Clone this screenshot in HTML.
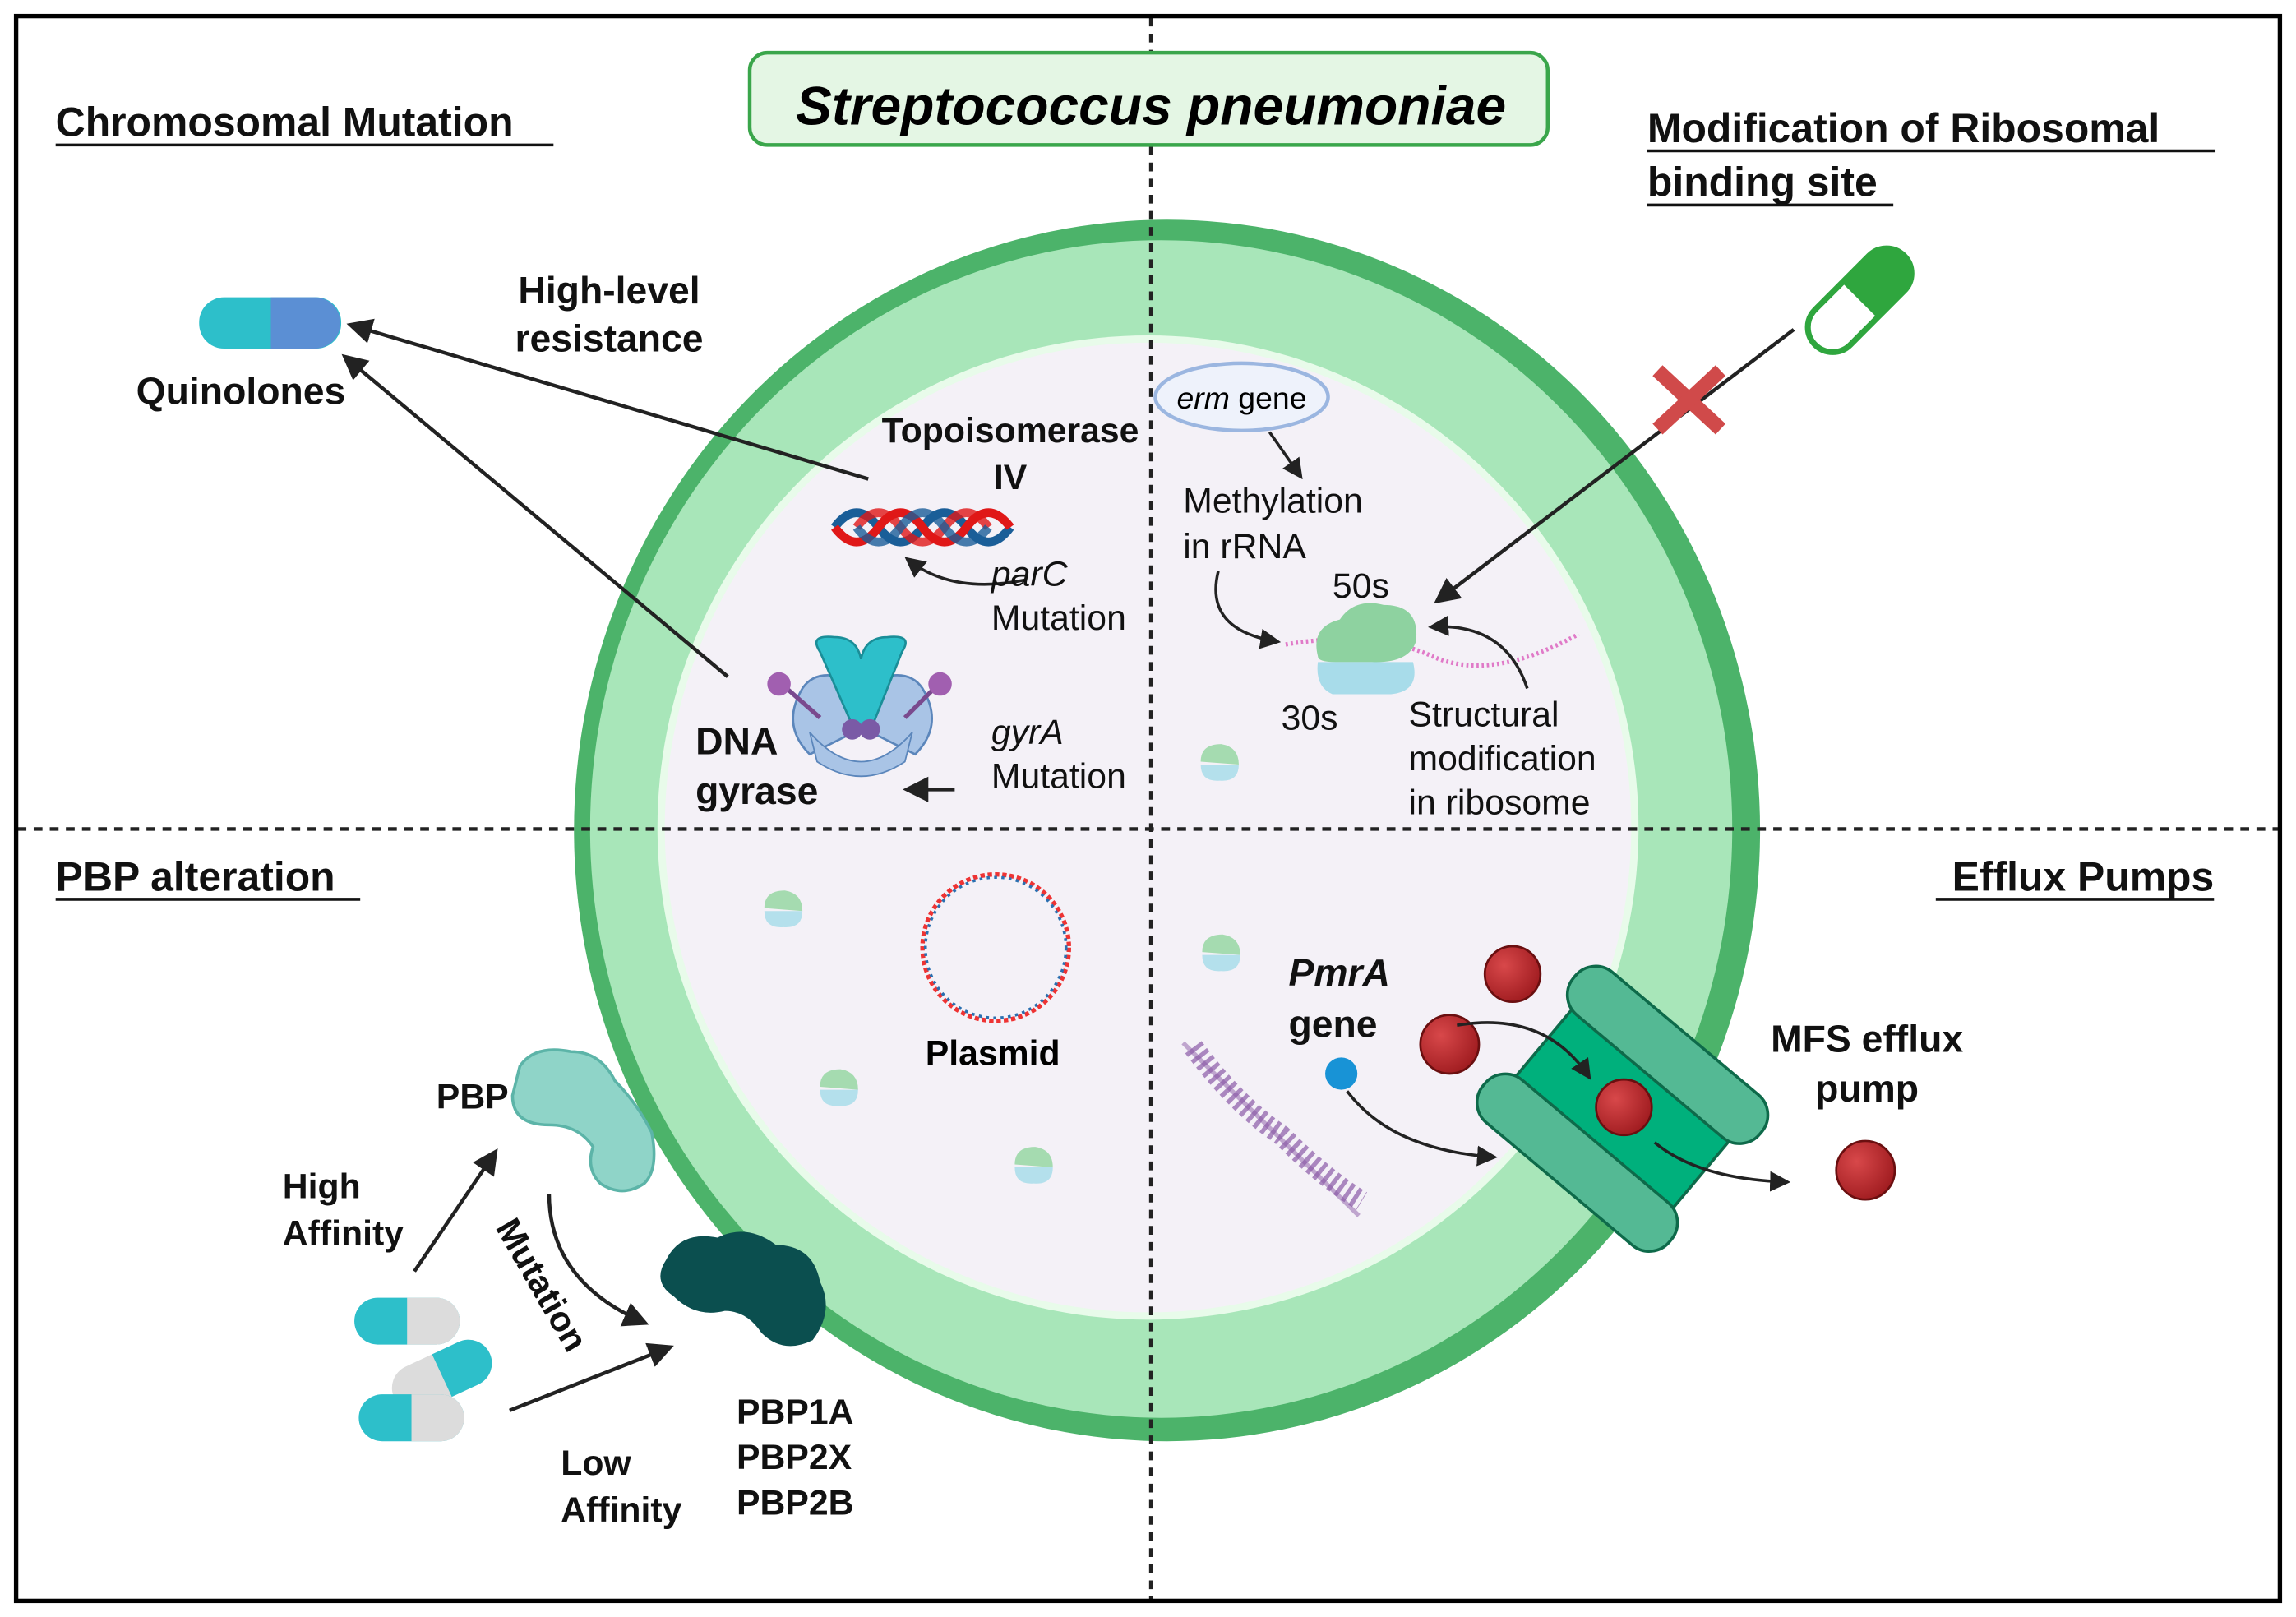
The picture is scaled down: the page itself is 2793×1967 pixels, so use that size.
<!DOCTYPE html>
<html><head><meta charset="utf-8"><style>html,body{margin:0;padding:0;background:#fff}svg{display:block}text{font-family:"Liberation Sans",Arial,sans-serif}</style></head>
<body>
<svg width="2793" height="1967" viewBox="0 0 1568 1104" preserveAspectRatio="none" xmlns="http://www.w3.org/2000/svg">
<defs>
<marker id="ah" viewBox="0 0 10 10" refX="8" refY="5" markerWidth="7" markerHeight="7" orient="auto"><path d="M0,0 L10,5 L0,10 z" fill="#222"/></marker>
<radialGradient id="rb" cx="0.35" cy="0.35" r="0.7"><stop offset="0" stop-color="#d8484a"/><stop offset="1" stop-color="#a01c20"/></radialGradient>
</defs>
<rect x="0" y="0" width="1568" height="1104" fill="#fff"/>
<!-- cell -->
<ellipse cx="797" cy="567" rx="405" ry="417" fill="#4cb36a"/>
<ellipse cx="793" cy="566" rx="390" ry="402" fill="#a8e6b9"/>
<ellipse cx="784" cy="565" rx="335" ry="336" fill="#e8fbea"/>
<ellipse cx="784" cy="565" rx="330" ry="331" fill="#f4f1f7"/>
<!-- dashed lines -->
<line x1="786" y1="12" x2="786" y2="1092" stroke="#222" stroke-width="2.5" stroke-dasharray="6,5"/>
<line x1="12" y1="566" x2="1556" y2="566" stroke="#222" stroke-width="2.5" stroke-dasharray="6,5"/>
<rect x="11" y="11" width="1546" height="1082" fill="none" stroke="#000" stroke-width="3"/>
<!-- title -->
<rect x="512" y="36" width="545" height="63" rx="12" fill="#e4f6e4" stroke="#3aa64b" stroke-width="2.5"/>
<text x="786" y="85" font-size="37" font-weight="bold" font-style="italic" text-anchor="middle">Streptococcus pneumoniae</text>
<!-- headers -->
<g font-size="28" font-weight="bold" fill="#111">
<text x="38" y="93">Chromosomal Mutation</text><line x1="38" y1="99" x2="378" y2="99" stroke="#111" stroke-width="2"/>
<text x="1125" y="97">Modification of Ribosomal</text><line x1="1125" y1="103" x2="1513" y2="103" stroke="#111" stroke-width="2"/>
<text x="1125" y="134">binding site</text><line x1="1125" y1="140" x2="1293" y2="140" stroke="#111" stroke-width="2"/>
<text x="38" y="608">PBP alteration</text><line x1="38" y1="614" x2="246" y2="614" stroke="#111" stroke-width="2"/>
<text x="1512" y="608" text-anchor="end">Efflux Pumps</text><line x1="1322" y1="614" x2="1512" y2="614" stroke="#111" stroke-width="2"/>
</g>
<!-- quinolone pill -->
<rect x="136" y="203" width="97" height="35" rx="17" fill="#2dbfca"/>
<path d="M185,203 h30 a17,17 0 0 1 0,35 h-30 z" fill="#5b8fd4"/>
<g font-weight="bold" font-size="26" fill="#111">
<text x="93" y="276">Quinolones</text>
<text x="416" y="207" text-anchor="middle">High-level</text>
<text x="416" y="240" text-anchor="middle">resistance</text>
<text x="690" y="302" text-anchor="middle" font-size="24">Topoisomerase</text>
<text x="690" y="334" text-anchor="middle" font-size="24">IV</text>
<text x="475" y="515" font-size="26">DNA</text>
<text x="475" y="549" font-size="26">gyrase</text>
</g>
<line x1="593" y1="327" x2="240" y2="222" stroke="#222" stroke-width="2.5" marker-end="url(#ah)"/>
<line x1="497" y1="462" x2="236" y2="244" stroke="#222" stroke-width="2.5" marker-end="url(#ah)"/>
<!-- DNA helix -->
<g fill="none" stroke-width="6">
<path d="M570,360 q15,-20 30,0 t30,0 t30,0 t30,0" stroke="#1a5e98"/>
<path d="M570,360 q15,20 30,0 t30,0 t30,0 t30,0" stroke="#e01818"/>
<path d="M585,360 q15,-20 30,0 t30,0 t30,0" stroke="#e01818" opacity=".8"/>
<path d="M585,360 q15,20 30,0 t30,0 t30,0" stroke="#1a5e98" opacity=".8"/>
</g>
<path d="M700,396 q-50,10 -80,-14" fill="none" stroke="#222" stroke-width="2" marker-end="url(#ah)"/>
<g font-size="24" fill="#111">
<text x="677" y="400" font-style="italic">parC</text>
<text x="677" y="430">Mutation</text>
<text x="677" y="508" font-style="italic">gyrA</text>
<text x="677" y="538">Mutation</text>
</g>
<line x1="652" y1="539" x2="620" y2="539" stroke="#222" stroke-width="2.5" marker-end="url(#ah)"/>
<!-- DNA gyrase -->
<path d="M548,470 q10,-15 35,-5 l10,30 l-40,20 q-20,-20 -5,-45z" fill="#a9c4e6" stroke="#5b86bb" stroke-width="1.5"/>
<path d="M630,470 q-10,-15 -35,-5 l-10,30 l40,20 q20,-20 5,-45z" fill="#a9c4e6" stroke="#5b86bb" stroke-width="1.5"/>
<path d="M553,500 q35,40 70,0 l-5,20 q-30,20 -60,0z" fill="#a9c4e6" stroke="#5b86bb"/>
<path d="M560,445 q-8,-12 10,-10 q15,0 18,15 q3,-15 18,-15 q18,-2 10,10 l-20,50 h-14z" fill="#2dbfca" stroke="#1a8e98" stroke-width="1.5"/>
<circle cx="582" cy="498" r="7" fill="#7a5aa6"/><circle cx="594" cy="498" r="7" fill="#7a5aa6"/>
<line x1="535" y1="468" x2="560" y2="490" stroke="#7a4a8e" stroke-width="3"/><circle cx="532" cy="467" r="8" fill="#a15fb0"/>
<line x1="640" y1="468" x2="618" y2="490" stroke="#7a4a8e" stroke-width="3"/><circle cx="642" cy="467" r="8" fill="#a15fb0"/>
<!-- erm -->
<ellipse cx="848" cy="271" rx="59" ry="23" fill="#eef2fb" stroke="#9bb6e0" stroke-width="2.5"/>
<text x="848" y="279" font-size="21" text-anchor="middle"><tspan font-style="italic">erm</tspan> gene</text>
<line x1="867" y1="295" x2="888" y2="325" stroke="#222" stroke-width="2" marker-end="url(#ah)"/>
<g font-size="24" fill="#111">
<text x="808" y="350">Methylation</text>
<text x="808" y="381">in rRNA</text>
<text x="910" y="408">50s</text>
<text x="875" y="498">30s</text>
<text x="962" y="496">Structural</text>
<text x="962" y="526">modification</text>
<text x="962" y="556">in ribosome</text>
</g>
<path d="M832,390 q-10,40 40,48" fill="none" stroke="#222" stroke-width="2" marker-end="url(#ah)"/>
<path d="M878,440 q60,-10 100,8 t100,-15" fill="none" stroke="#e07ac8" stroke-width="3" stroke-dasharray="1.5,2"/>
<path d="M900,448 q-5,-20 15,-25 q10,-15 30,-10 q25,0 22,25 q-5,15 -30,14 h-25 q-12,0 -12,-4z" fill="#8ed2a0"/>
<path d="M900,452 h65 q5,20 -15,22 h-40 q-12,-5 -10,-22z" fill="#a8dcea"/>
<path d="M1043,470 q-15,-45 -65,-42" fill="none" stroke="#222" stroke-width="2" marker-end="url(#ah)"/>
<!-- green pill & X -->
<g transform="rotate(-45 1270 205)"><rect x="1227" y="188" width="86" height="34" rx="17" fill="#fff" stroke="#2fa63e" stroke-width="4"/><path d="M1270,188 h26 a17,17 0 0 1 0,34 h-26z" fill="#2fa63e"/></g>
<line x1="1225" y1="225" x2="982" y2="410" stroke="#222" stroke-width="2.5" marker-end="url(#ah)"/>
<g stroke="#d04a4a" stroke-width="10"><line x1="1132" y1="253" x2="1175" y2="293"/><line x1="1175" y1="253" x2="1132" y2="293"/></g>
<!-- small ribosomes -->
<g id="rs"><path d="M820,520 q0,-12 14,-12 q12,2 12,14z" fill="#a5dbb0"/><path d="M820,522 h26 q0,12 -13,11 q-13,1 -13,-11z" fill="#b4e0ec"/></g>
<use href="#rs" x="-298" y="100"/><use href="#rs" x="-260" y="222"/><use href="#rs" x="-127" y="275"/><use href="#rs" x="1" y="130"/>
<!-- plasmid -->
<ellipse cx="680" cy="647" rx="50" ry="50" fill="none" stroke="#e33" stroke-width="3" stroke-dasharray="3,2"/>
<ellipse cx="680" cy="647" rx="48" ry="48" fill="none" stroke="#2a6fb0" stroke-width="2" stroke-dasharray="2,3"/>
<text x="678" y="727" font-size="24" font-weight="bold" text-anchor="middle">Plasmid</text>
<!-- PmrA -->
<g font-weight="bold" font-size="26" fill="#111">
<text x="880" y="673" font-style="italic">PmrA</text>
<text x="880" y="708">gene</text>
<text x="1275" y="718" text-anchor="middle">MFS efflux</text>
<text x="1275" y="752" text-anchor="middle">pump</text>
</g>
<path d="M815,715 q30,40 60,60 q30,30 55,45" fill="none" stroke="#8a5aa6" stroke-width="14" stroke-dasharray="3,3" opacity=".7"/>
<path d="M808,712 l120,118" fill="none" stroke="#8a5aa6" stroke-width="3" opacity=".5"/>
<circle cx="916" cy="733" r="11" fill="#1893d6"/>
<path d="M920,745 q30,40 100,45" fill="none" stroke="#222" stroke-width="2" marker-end="url(#ah)"/>
<!-- pump -->
<g transform="rotate(40 1108 757)">
<rect x="1038" y="712" width="140" height="90" fill="#00b07c" stroke="#0e6a4a" stroke-width="2"/>
<rect x="1025" y="690" width="166" height="38" rx="18" fill="#54b994" stroke="#0e6a4a" stroke-width="2"/>
<rect x="1025" y="786" width="166" height="38" rx="18" fill="#54b994" stroke="#0e6a4a" stroke-width="2"/>
</g>
<circle cx="1033" cy="665" r="19" fill="url(#rb)" stroke="#6a0f10" stroke-width="1.5"/>
<circle cx="990" cy="713" r="20" fill="url(#rb)" stroke="#6a0f10" stroke-width="1.5"/>
<circle cx="1109" cy="756" r="19" fill="url(#rb)" stroke="#6a0f10" stroke-width="1.5"/>
<circle cx="1274" cy="799" r="20" fill="url(#rb)" stroke="#6a0f10" stroke-width="1.5"/>
<path d="M995,700 q60,-10 90,35" fill="none" stroke="#222" stroke-width="2" marker-end="url(#ah)"/>
<path d="M1130,780 q30,25 90,27" fill="none" stroke="#222" stroke-width="2" marker-end="url(#ah)"/>
<!-- PBP -->
<path d="M355,728 q10,-15 35,-10 q20,0 30,20 q15,15 25,35 q5,25 -5,35 q-15,10 -30,0 q-10,-10 -5,-25 q-10,-15 -30,-15 q-25,0 -25,-20z" fill="#8fd4c8" stroke="#5cb4a8" stroke-width="2"/>
<path d="M455,860 q10,-20 35,-15 q20,-10 40,5 q25,0 30,25 q10,20 -5,40 q-20,10 -35,-5 q-10,-15 -25,-15 q-20,5 -35,-10 q-15,-10 -5,-25z" fill="#0b4f4f"/>
<g font-weight="bold" font-size="24" fill="#111">
<text x="298" y="757">PBP</text>
<text x="193" y="818">High</text><text x="193" y="850">Affinity</text>
<text x="383" y="1007">Low</text><text x="383" y="1039">Affinity</text>
<text x="503" y="972">PBP1A</text><text x="503" y="1003">PBP2X</text><text x="503" y="1034">PBP2B</text>
<text transform="translate(338 838) rotate(60)">Mutation</text>
</g>
<line x1="283" y1="868" x2="338" y2="787" stroke="#222" stroke-width="2.5" marker-end="url(#ah)"/>
<line x1="348" y1="963" x2="457" y2="920" stroke="#222" stroke-width="2.5" marker-end="url(#ah)"/>
<path d="M375,815 q0,60 65,88" fill="none" stroke="#222" stroke-width="2.5" marker-end="url(#ah)"/>
<!-- pills bottom-left -->
<g><rect x="242" y="886" width="72" height="32" rx="16" fill="#2dbfca"/><path d="M278,886 h20 a16,16 0 0 1 0,32 h-20z" fill="#dcdcdc"/></g>
<g transform="rotate(-25 300 940)"><rect x="266" y="924" width="72" height="32" rx="16" fill="#dcdcdc"/><path d="M302,924 h20 a16,16 0 0 1 0,32 h-20z" fill="#2dbfca"/></g>
<g><rect x="245" y="952" width="72" height="32" rx="16" fill="#2dbfca"/><path d="M281,952 h20 a16,16 0 0 1 0,32 h-20z" fill="#dcdcdc"/></g>
</svg>
</body></html>
